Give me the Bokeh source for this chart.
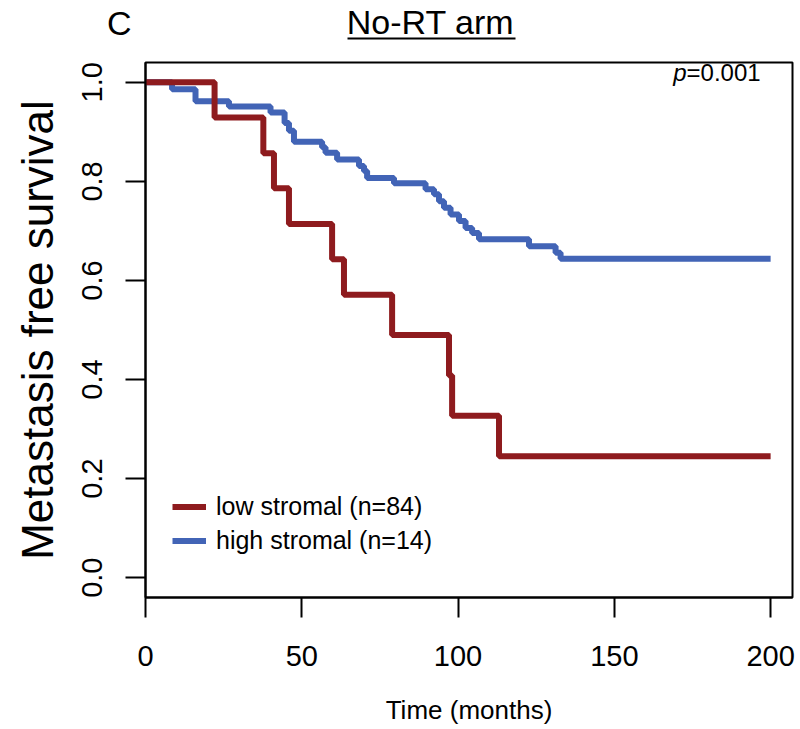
from bokeh.plotting import figure
from bokeh.layouts import column
from bokeh.models import Range1d, FixedTicker, Legend, LegendItem, Label, LinearAxis
from bokeh.core.properties import value
from bokeh.embed import file_html
from bokeh.resources import INLINE

# ---- data ----
low_time = [0, 22.1, 37.7, 41.1, 45.9, 59.7, 63.5, 78.9, 97.1, 98.1, 113.1, 200]
low_surv = [1.0, 0.929, 0.857, 0.786, 0.714, 0.643, 0.571, 0.490, 0.408, 0.327, 0.245, 0.245]

high_time = [0, 8.5, 16.0, 26.7, 40.0, 44.5, 45.9, 47.5, 56.5, 57.6, 61.3, 68.3, 69.9, 70.9,
             79.5, 89.6, 92.3, 93.9, 95.5, 97.6, 100.3, 102.4, 104.5, 106.7, 122.7, 131.2, 132.8, 200]
high_surv = [1.0, 0.986, 0.962, 0.951, 0.939, 0.918, 0.902, 0.880, 0.869, 0.858, 0.844, 0.831, 0.821, 0.807,
             0.796, 0.784, 0.774, 0.760, 0.747, 0.733, 0.720, 0.706, 0.696, 0.683, 0.669, 0.656, 0.644, 0.644]

x_ticks = [0, 50, 100, 150, 200]
y_ticks = [0.0, 0.2, 0.4, 0.6, 0.8, 1.0]
y_tick_labels = ["0.0", "0.2", "0.4", "0.6", "0.8", "1.0"]

labels = ["low stromal (n=84)", "high stromal (n=14)"]
title_text = "No-RT arm"
panel_letter = "C"
RED = "#8E1B1E"
BLUE = "#4264B6"
FONT = "Liberation Sans"
W = 796
HDR_H = 44
LEFT = 145
RIGHT_PAD = 4

# ---- header (panel letter + underlined title); its frame aligns with the main frame ----
hdr = figure(width=W, height=HDR_H, output_backend="svg", toolbar_location=None,
             x_axis_type=None, y_axis_type=None,
             x_range=Range1d(LEFT, W - RIGHT_PAD), y_range=Range1d(HDR_H, 0),
             min_border=0, min_border_left=0, min_border_right=0, min_border_top=0, min_border_bottom=0)
hdr.grid.visible = False
hdr.outline_line_color = None
hdr.text(x=[430], y=[21], text=[title_text], text_align="center", text_baseline="middle",
         text_font=value(FONT), text_font_size="34px", text_color="black")
hdr.segment(x0=[347], y0=[38], x1=[515], y1=[38], line_color="black", line_width=2)

# panel letter drawn as a horizontal axis label to the left of the header frame
letter_axis = LinearAxis(ticker=FixedTicker(ticks=[]), axis_line_color=None,
                         major_tick_line_color=None, minor_tick_line_color=None,
                         major_label_text_font_size="0px",
                         axis_label=panel_letter, axis_label_orientation="horizontal",
                         axis_label_text_font=FONT, axis_label_text_font_size="34px",
                         axis_label_text_font_style="normal", axis_label_text_color="black",
                         axis_label_standoff=14)
hdr.add_layout(letter_axis, "left")

# ---- main plot ----
p = figure(width=W, height=728 - HDR_H, output_backend="svg", toolbar_location=None,
           x_range=Range1d(0, 207), y_range=Range1d(-0.04, 1.04),
           min_border_left=LEFT, min_border_right=RIGHT_PAD, min_border_top=62 - HDR_H, min_border_bottom=131)

p.xgrid.visible = False
p.ygrid.visible = False
p.outline_line_color = "black"
p.outline_line_width = 2
p.background_fill_color = "white"

rb = p.step(high_time, high_surv, mode="after", line_color=BLUE, line_width=6)
rr = p.step(low_time, low_surv, mode="after", line_color=RED, line_width=6)

for ax in (p.xaxis[0], p.yaxis[0]):
    ax.axis_line_color = "black"
    ax.axis_line_width = 2
    ax.major_tick_line_color = "black"
    ax.major_tick_line_width = 2
    ax.major_tick_out = 20
    ax.major_tick_in = 0
    ax.minor_tick_line_color = None
    ax.major_label_text_font = FONT
    ax.major_label_text_font_size = "29px"
    ax.major_label_text_color = "black"
    ax.axis_label_text_font = FONT
    ax.axis_label_text_font_style = "normal"
    ax.axis_label_text_color = "black"

p.xaxis[0].ticker = FixedTicker(ticks=x_ticks)
p.xaxis[0].major_label_standoff = 28
p.xaxis[0].axis_label = "Time (months)"
p.xaxis[0].axis_label_text_font_size = "26px"
p.xaxis[0].axis_label_standoff = 26

p.yaxis[0].ticker = FixedTicker(ticks=y_ticks)
p.yaxis[0].major_label_overrides = {t: l for t, l in zip(y_ticks, y_tick_labels)}
p.yaxis[0].major_label_orientation = "vertical"
p.yaxis[0].major_label_standoff = 23
p.yaxis[0].axis_label = "Metastasis free survival"
p.yaxis[0].axis_label_text_font_size = "44px"
p.yaxis[0].axis_label_standoff = 18

legend = Legend(items=[LegendItem(label=labels[0], renderers=[rr]),
                       LegendItem(label=labels[1], renderers=[rb])],
                location=(27, 42), padding=0, margin=0, spacing=5,
                glyph_width=34, glyph_height=25, label_height=25, label_standoff=10,
                label_text_font=FONT, label_text_font_size="25px", label_text_color="black",
                border_line_color=None, background_fill_alpha=0)
p.add_layout(legend)

# p-value
p.add_layout(Label(x=173.1, y=1.019, text="p", text_align="right", text_baseline="middle",
                   text_font=FONT, text_font_size="24px", text_font_style="italic", text_color="black"))
p.add_layout(Label(x=173.1, y=1.019, text="=0.001", text_align="left", text_baseline="middle",
                   text_font=FONT, text_font_size="24px", text_color="black"))

layout = column(hdr, p, spacing=0)
open("out.html", "w").write(file_html(layout, INLINE))
